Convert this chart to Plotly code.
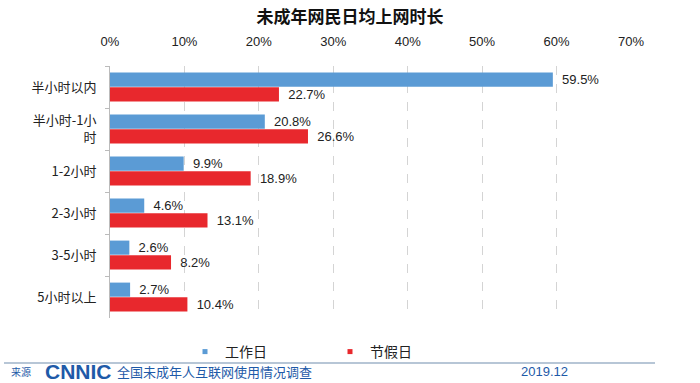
import plotly.graph_objects as go

categories = ["半小时以内", "半小时-1小<br>时", "1-2小时", "2-3小时", "3-5小时", "5小时以上"]
workday = [59.5, 20.8, 9.9, 4.6, 2.6, 2.7]
holiday = [22.7, 26.6, 18.9, 13.1, 8.2, 10.4]
series_names = ["工作日", "节假日"]
series_colors = ["#5b9bd5", "#e8282d"]
tick_vals = [0, 10, 20, 30, 40, 50, 60, 70]
tick_text = [f"{v}%" for v in tick_vals]

FONT = "Liberation Sans, Arial, Noto Sans CJK SC, sans-serif"
CJK = "Noto Sans CJK SC, sans-serif"

fig = go.Figure()
for name, vals, col in zip(series_names, [workday, holiday], series_colors):
    fig.add_trace(go.Bar(
        y=categories, x=vals, orientation="h", name=name, showlegend=False,
        marker=dict(color=col, line=dict(width=0)),
        text=[f"\u2009\u00a0{v}%" for v in vals], textposition="outside",
        constraintext="none",
        textfont=dict(size=13, color="#222"), cliponaxis=False,
    ))
# legend entries with small square markers (like the reference)
for name, col in zip(series_names, series_colors):
    fig.add_trace(go.Scatter(
        x=[None], y=[None], mode="markers", name=name,
        marker=dict(symbol="square", size=5, color=col),
    ))

H = 383 - 66 - 65


def py(pix):
    return (383 - 65 - pix) / H


def px(pix):
    return (pix - 110) / 521


fig.update_layout(
    width=700, height=383,
    margin=dict(l=110, r=69, t=66, b=65, autoexpand=False),
    paper_bgcolor="white", plot_bgcolor="white",
    font=dict(family=FONT, size=12, color="#222"),
    barmode="group", bargap=0.3, bargroupgap=0.04,
    title=dict(text="<b>未成年网民日均上网时长</b>", x=0.5, xanchor="center",
               y=1 - 17 / 383, yanchor="middle",
               font=dict(size=17, color="#111", family=CJK)),
    xaxis=dict(side="top", range=[0, 70], tickvals=tick_vals, ticktext=tick_text,
               showgrid=True, gridcolor="#d4d4d4", griddash="dash", gridwidth=1,
               zeroline=False, showline=False, ticks="", ticklabelstandoff=16,
               automargin=False, tickfont=dict(size=13, color="#222")),
    yaxis=dict(autorange="reversed", showline=True, linecolor="#bbbbbb", linewidth=1,
               ticks="outside", tickson="boundaries", ticklen=4, tickcolor="#bbbbbb",
               showgrid=False, automargin=False,
               tickfont=dict(size=13, color="#222", family=CJK),
               ticklabelstandoff=10),
    legend=dict(orientation="h", x=px(330), xanchor="center", y=py(352), yanchor="middle",
                font=dict(size=14, color="#222", family=CJK), entrywidth=100,
                itemwidth=30, traceorder="normal", bgcolor="rgba(0,0,0,0)"),
    showlegend=True,
)

fig.add_shape(type="line", xref="paper", yref="paper", x0=px(4), x1=px(655),
              y0=py(363), y1=py(363), line=dict(color="#9fb3c8", width=1.5))
fig.add_annotation(text="来源", xref="paper", yref="paper", x=px(9), y=py(371),
                   xanchor="left", yanchor="middle", showarrow=False,
                   font=dict(size=10, color="#1e5aa8", family=CJK))
fig.add_annotation(text="<b>CNNIC</b>", xref="paper", yref="paper", x=px(43),
                   y=py(371), xanchor="left", yanchor="middle", showarrow=False,
                   font=dict(size=21, color="#1e5aa8", family="Liberation Sans, Arial"))
fig.add_annotation(text="全国未成年人互联网使用情况调查", xref="paper", yref="paper",
                   x=px(115), y=py(371), xanchor="left", yanchor="middle",
                   showarrow=False, font=dict(size=13, color="#1e5aa8", family=CJK))
fig.add_annotation(text="2019.12", xref="paper", yref="paper", x=px(544),
                   y=py(371), xanchor="center", yanchor="middle", showarrow=False,
                   font=dict(size=13, color="#1e5aa8"))

fig.write_html("out.html", config={"displayModeBar": False},
               post_script="document.body.style.margin='0px';")
